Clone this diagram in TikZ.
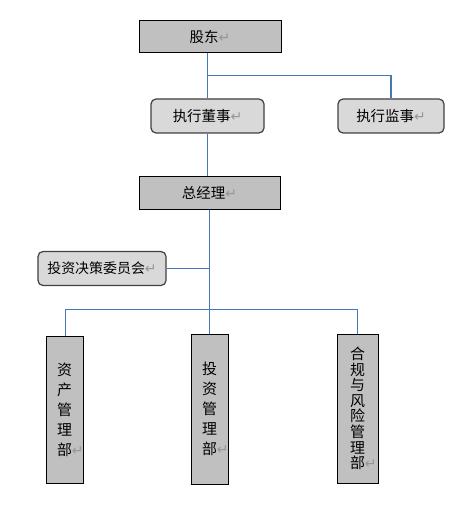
\documentclass[tikz,border=0pt]{standalone}
\usepackage{fontspec}
\setmainfont{Noto Sans CJK SC}
\newfontfamily\markfont{DejaVu Sans}
\usetikzlibrary{calc}
\definecolor{linkblue}{RGB}{70,120,185}
\definecolor{boxgray}{RGB}{192,192,192}
\definecolor{softgray}{RGB}{217,217,217}
\definecolor{markgray}{RGB}{150,150,150}
\newcommand{\retmark}{{\markfont\color{markgray}\fontsize{14}{14}\selectfont ↵}}
\tikzstyle{headbox}=[draw=black,fill=boxgray,line width=1bp,inner sep=0pt,font=\fontsize{14.5}{16}\selectfont]
\tikzstyle{softbox}=[draw=black!75,fill=softgray,line width=1.2bp,rounded corners=5bp,inner sep=0pt,font=\fontsize{14.5}{16}\selectfont]
\tikzstyle{deptbox}=[draw=black,fill=boxgray,line width=1bp,inner sep=0pt,align=center,minimum width=37bp]
\tikzstyle{link}=[draw=linkblue,line width=1.4bp]

\begin{document}
\begin{tikzpicture}[x=1bp,y=-1bp]

      % picture size, same as the reference
      \useasboundingbox (0,0) rectangle (471,516);
      \def\forkone{75.5} % height of the line to the two boards
      \def\forktwo{309.5} % height of the line to the departments

      % top of the chart
      \node[headbox,minimum width=142bp,minimum height=32bp] at (210,37) (gudong) {股东\retmark};
      \node[softbox,minimum width=113bp,minimum height=34bp] at (207.5,116) (dongshi) {执行董事\retmark};
      \node[softbox,minimum width=106bp,minimum height=34bp] at (391,116) (jianshi) {执行监事\retmark};
      % manager and committee
      \node[headbox,minimum width=141bp,minimum height=32bp] at (209.5,193) (zongjingli) {总经理\retmark};
      \node[softbox,minimum width=128bp,minimum height=34bp,font=\fontsize{14}{16}\selectfont] at (102,268.5) (weiyuanhui) {投资决策委员会\retmark};
      % departments, text set one character a line
      \node[deptbox,minimum height=147bp,font=\fontsize{15}{20}\selectfont] at (64.5,409.5) (zichanbu) {资\\产\\管\\理\\部\rlap{\retmark}};
      \node[deptbox,minimum height=150bp,font=\fontsize{15}{20}\selectfont] at (209.5,409) (touzibu) {投\\资\\管\\理\\部\rlap{\retmark}};
      \node[deptbox,minimum width=41bp,minimum height=149bp,font=\fontsize{15}{15.6}\selectfont] at (357.5,408.5) (hegui) {合\\规\\与\\风\\险\\管\\理\\部\rlap{\retmark}};

      % connect the boxes
      \draw[link] (dongshi.north) -- (dongshi.north |- gudong.south);
      \draw[link] (dongshi.north |- 0,\forkone) -| (jianshi.north);
      \draw[link] (dongshi.south) -- (dongshi.south |- zongjingli.north);
      \draw[link] (zongjingli.south) -- (touzibu.north);
      \draw[link] (weiyuanhui.east) -- (weiyuanhui.east -| zongjingli.south);
      \draw[link] ([xshift=1bp]zichanbu.north) |- (zongjingli.south |- 0,\forktwo) -| (hegui.north);

\end{tikzpicture}
\end{document}
